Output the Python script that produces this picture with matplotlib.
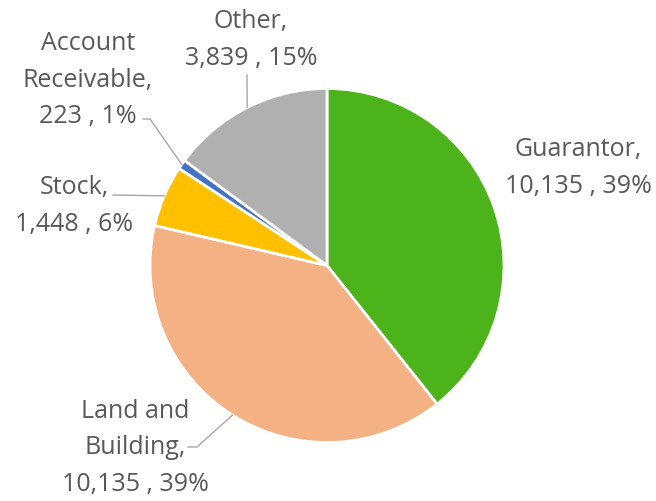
import numpy as np
import matplotlib.pyplot as plt

# loan collateral breakdown
categories = ['Guarantor', 'Land and\nBuilding', 'Stock', 'Account\nReceivable', 'Other']
values = [10135, 10135, 1448, 223, 3839]
colors = ['#4DB31A', '#F4B183', '#FFC000', '#4472C4', '#B0B0B0']

W, H = 656, 501
cx, cy, R = 327, 265.5, 177  # pie centre and radius in pixels

fig = plt.figure(figsize=(W / 100, H / 100), dpi=100)
ax = fig.add_axes([0, 0, 1, 1])

wedges, _ = ax.pie(values, colors=colors, startangle=90, counterclock=False,
                   radius=1, wedgeprops=dict(edgecolor='white', linewidth=2))

# pie() resets the limits, so set them afterwards
ax.set_xlim(-cx / R, (W - cx) / R)
ax.set_ylim(-(H - cy) / R, cy / R)
ax.set_aspect('equal')
ax.axis('off')

total = sum(values)

def px(x, y):
    return (x - cx) / R, (cy - y) / R

# label block centres (pixels) and leader elbow / end points
label_pos = [(578, 168), (135, 448), (74, 206), (88, 80), (251, 40)]
leader = [None,
          [(197, 447), (188, 447)],
          [(113, 195)],
          [(150, 119), (143, 119)],
          [(247, 75)]]

for w, name, v, pos, ld in zip(wedges, categories, values, label_pos, leader):
    pct = round(100 * v / total)
    txt = f'{name},\n{v:,} , {pct}%'
    lx, ly = px(*pos)
    ax.text(lx, ly, txt, ha='center', va='center', multialignment='center',
            fontsize=18, color='#595959', family='Open Sans', linespacing=1.6)
    if ld:
        ang = np.deg2rad((w.theta1 + w.theta2) / 2)
        xs = [np.cos(ang)] + [px(*p)[0] for p in ld]
        ys = [np.sin(ang)] + [px(*p)[1] for p in ld]
        ax.plot(xs, ys, color='#A6A6A6', lw=1)

fig.savefig('out.png', dpi=100)
